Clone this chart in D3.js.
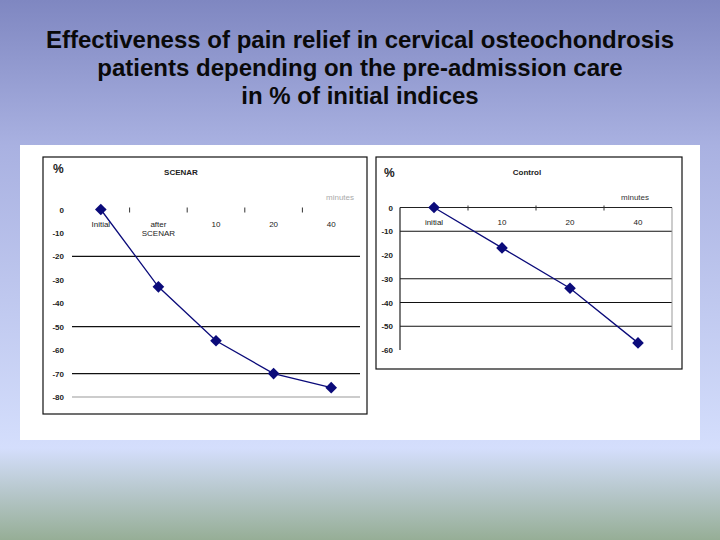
<!DOCTYPE html>
<html><head><meta charset="utf-8">
<script src="https://cdn.jsdelivr.net/npm/d3@7"></script>
<style>body{margin:0;padding:0;overflow:hidden}svg{display:block}</style>
</head><body>
<script>
// ---- data ----
const titleLines = ["Effectiveness of pain relief in cervical osteochondrosis",
  "patients depending on the pre-admission care",
  "in % of initial indices"];
const scenarCategories = ["Initial", "after\nSCENAR", "10", "20", "40"];
const scenarValues = [0, -33, -56, -70, -76];
const scenarTicks = [0, -10, -20, -30, -40, -50, -60, -70, -80];
const scenarGrid = [-20, -50, -70];
const controlCategories = ["initial", "10", "20", "40"];
const controlValues = [0, -17, -34, -57];
const controlTicks = [0, -10, -20, -30, -40, -50, -60];
const controlGrid = [-10, -30, -40, -50];

const W = 720, H = 540;
const svg = d3.select("body").append("svg").attr("width", W).attr("height", H);
const defs = svg.append("defs");
const g = defs.append("linearGradient").attr("id", "bg").attr("x1", 0).attr("y1", 0).attr("x2", 0).attr("y2", 1);
[[0, "#7f87c1"], [0.27, "#a9b1e1"], [0.83, "#d4defc"], [1, "#96ae96"]].forEach(([o, c]) =>
  g.append("stop").attr("offset", o).attr("stop-color", c));
svg.append("rect").attr("width", W).attr("height", H).attr("fill", "url(#bg)");

// title
svg.append("g").selectAll("text").data(titleLines).join("text")
  .attr("x", 360).attr("y", (d, i) => 48 + i * 28)
  .attr("text-anchor", "middle")
  .attr("font-family", "Liberation Sans, Arial, sans-serif")
  .attr("font-weight", "bold").attr("font-size", 24).attr("fill", "#0a0a0a")
  .text(d => d);

// white panel
svg.append("rect").attr("x", 20).attr("y", 145).attr("width", 680).attr("height", 295).attr("fill", "#fff");

const font = "Liberation Sans, Arial, sans-serif";
const navy = "#0b0b7a";

function chart(opt) {
  const root = svg.append("g");
  root.append("rect").attr("x", opt.box[0]).attr("y", opt.box[1])
    .attr("width", opt.box[2] - opt.box[0]).attr("height", opt.box[3] - opt.box[1])
    .attr("fill", "#fff").attr("stroke", "#111").attr("stroke-width", 1.2);
  const x = d3.scaleBand().domain(opt.cats).range([opt.x0, opt.x1]);
  const y = d3.scaleLinear().domain([0, opt.ymin]).range([opt.y0, opt.y1]);

  // gridlines
  root.append("g").selectAll("line").data(opt.grid).join("line")
    .attr("x1", opt.x0).attr("x2", opt.x1)
    .attr("y1", d => y(d)).attr("y2", d => y(d))
    .attr("stroke", "#111").attr("stroke-width", 1.2);
  if (opt.bottomGrid) {
    root.append("line").attr("x1", opt.x0).attr("x2", opt.x1)
      .attr("y1", y(opt.ymin)).attr("y2", y(opt.ymin)).attr("stroke", "#999").attr("stroke-width", 1);
  }
  if (opt.frame) {
    root.append("line").attr("x1", opt.x0).attr("x2", opt.x0).attr("y1", y(0)).attr("y2", y(opt.ymin))
      .attr("stroke", "#222").attr("stroke-width", 1.2);
    root.append("line").attr("x1", opt.x1).attr("x2", opt.x1).attr("y1", y(0)).attr("y2", y(opt.ymin))
      .attr("stroke", "#999").attr("stroke-width", 1);
    root.append("line").attr("x1", opt.x0).attr("x2", opt.x1).attr("y1", y(0)).attr("y2", y(0))
      .attr("stroke", "#222").attr("stroke-width", 1.2);
  }

  // y axis labels
  const ya = d3.axisLeft(y).tickValues(opt.ticks).tickSize(0).tickPadding(0).tickFormat(d => String(d));
  const yg = root.append("g").attr("transform", `translate(${opt.ylabX},0)`).call(ya);
  yg.select(".domain").remove();
  yg.selectAll("text").attr("font-family", font).attr("font-size", 8).attr("font-weight", "bold")
    .attr("fill", "#222").attr("text-anchor", "end");

  // x tick marks between categories
  const bounds = opt.cats.slice(1).map(c => x(c));
  root.append("g").selectAll("line").data(bounds).join("line")
    .attr("x1", d => d).attr("x2", d => d).attr("y1", y(0) - 2).attr("y2", y(0) + 3)
    .attr("stroke", "#333").attr("stroke-width", 1);

  // category labels
  const xl = root.append("g").selectAll("text").data(opt.cats).join("text")
    .attr("x", d => x(d) + x.bandwidth() / 2).attr("y", y(0) + 17)
    .attr("text-anchor", "middle").attr("font-family", font).attr("font-size", 8)
    .attr("fill", "#222");
  xl.each(function (d) {
    const t = d3.select(this);
    d.split("\n").forEach((s, i) => t.append("tspan").attr("x", t.attr("x")).attr("dy", i ? 9 : 0).text(s));
  });

  // line + markers
  const pts = opt.cats.map((c, i) => [x(c) + x.bandwidth() / 2, y(opt.vals[i])]);
  root.append("path").attr("d", d3.line()(pts)).attr("fill", "none").attr("stroke", navy).attr("stroke-width", 1.3);
  root.append("g").selectAll("path").data(pts).join("path")
    .attr("transform", d => `translate(${d[0]},${d[1]}) rotate(45)`)
    .attr("d", d3.symbol(d3.symbolSquare, 68)).attr("fill", navy);

  // texts
  root.append("text").attr("x", opt.pct[0]).attr("y", opt.pct[1]).attr("font-family", font)
    .attr("font-weight", "bold").attr("font-size", 12).attr("fill", "#222").text("%");
  root.append("text").attr("x", opt.ttl[0]).attr("y", opt.ttl[1]).attr("text-anchor", "middle")
    .attr("font-family", font).attr("font-size", 8).attr("font-weight", "bold").attr("fill", "#222").text(opt.title);
  root.append("text").attr("x", opt.min[0]).attr("y", opt.min[1]).attr("text-anchor", "middle")
    .attr("font-family", font).attr("font-size", 8).attr("fill", opt.minColor).text("minutes");
}

chart({
  box: [43, 157, 367, 414], cats: scenarCategories, vals: scenarValues,
  x0: 72, x1: 360, y0: 209.5, y1: 397, ymin: -80, ticks: scenarTicks, grid: scenarGrid,
  bottomGrid: true, frame: false, ylabX: 64, pct: [53, 173], ttl: [181, 175], title: "SCENAR",
  min: [340, 200], minColor: "#aaa"
});
chart({
  box: [376, 157, 682, 369], cats: controlCategories, vals: controlValues,
  x0: 400, x1: 672, y0: 207.5, y1: 350, ymin: -60, ticks: controlTicks, grid: controlGrid,
  bottomGrid: false, frame: true, ylabX: 393, pct: [384, 177], ttl: [527, 175], title: "Control",
  min: [635, 200], minColor: "#333"
});
</script>
</body></html>
